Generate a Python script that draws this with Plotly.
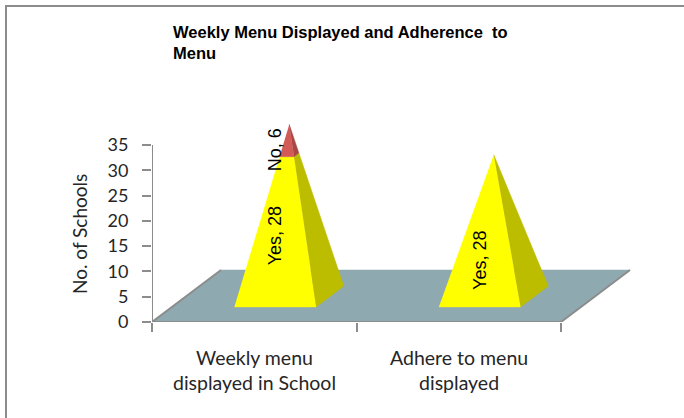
import plotly.graph_objects as go

categories = ["Weekly menu<br>displayed in School", "Adhere to menu<br>displayed"]
yes_values = [28, 28]
no_values = [6, 0]
y_ticks = [0, 5, 10, 15, 20, 25, 30, 35]
title_text = "<b>Weekly Menu Displayed and Adherence  to<br>Menu</b>"
y_title = "No. of Schools"

W, H = 684, 418
X0, X1 = 152, 660
Y0, YTOP = 322, 100
PX_CAT = 204.5
PX_UNIT = 5.06
# oblique projection of the floor and bars, in data units
DX = 69 / PX_CAT
DY = 52 / PX_UNIT
FRONT, BACK = 0.29, 0.69
BAR_W = 0.40
BAR_SHIFT = 1.0 / PX_CAT
APEX_SHIFT = 14 / PX_CAT
YES_LABEL_SHIFT = [0, -4.75]
AXIS_GREY = "#8C8C8C"
TEXT = "#262626"
LABEL_FONT = dict(family="Liberation Sans", size=18, color="black")

fig = go.Figure()

def poly(xs, ys, color):
    fig.add_trace(go.Scatter(x=xs, y=ys, mode="lines", fill="toself", fillcolor=color,
                             line=dict(color=color, width=0.5), hoverinfo="skip", showlegend=False))

def rule(xs, ys):
    fig.add_trace(go.Scatter(x=xs, y=ys, mode="lines", line=dict(color=AXIS_GREY, width=2),
                             hoverinfo="skip", showlegend=False, cliponaxis=False))

# floor
n = len(categories)
poly([0, n, n + DX, DX], [0, 0, DY, DY], "#8FA9B0")
rule([0, n, n + DX], [0, 0, DY])
rule([0, DX], [0, DY])
rule([0, 0], [y_ticks[0], y_ticks[-1]])

def lerp(a, b, t):
    return (a[0] + (b[0] - a[0]) * t, a[1] + (b[1] - a[1]) * t)

for i, (yes, no) in enumerate(zip(yes_values, no_values)):
    c = i + 0.5 + BAR_SHIFT
    total = yes + no
    yf = FRONT * DY
    yb = BACK * DY
    xl = c - BAR_W / 2 + FRONT * DX
    xr = c + BAR_W / 2 + FRONT * DX
    fl, fr = (xl, yf), (xr, yf)
    br = (xr + (BACK - FRONT) * DX, yb)
    apex = (c + FRONT * DX + APEX_SHIFT, (FRONT + BACK) / 2 * DY + total)
    t = yes / total
    cl, cr, cb = lerp(fl, apex, t), lerp(fr, apex, t), lerp(br, apex, t)
    poly([fl[0], fr[0], cr[0], cl[0]], [fl[1], fr[1], cr[1], cl[1]], "#FFFF00")
    poly([fr[0], br[0], cb[0], cr[0]], [fr[1], br[1], cb[1], cr[1]], "#BDBD00")
    if no:
        poly([cl[0], cr[0], apex[0]], [cl[1], cr[1], apex[1]], "#D25B58")
        poly([cr[0], cb[0], apex[0]], [cr[1], cb[1], apex[1]], "#A84744")
    fig.add_annotation(x=c + FRONT * DX, y=yf + yes / 2 + YES_LABEL_SHIFT[i], text=f"Yes, {yes}",
                       showarrow=False, textangle=-90, font=LABEL_FONT)
    if no:
        fig.add_annotation(x=c + FRONT * DX, y=yf + yes + no / 2, text=f"No, {no}",
                           showarrow=False, textangle=-90, font=LABEL_FONT)

fig.update_layout(
    width=W, height=H, autosize=False, paper_bgcolor="white", plot_bgcolor="rgba(0,0,0,0)",
    margin=dict(l=X0, r=W - X1, t=YTOP, b=H - Y0), showlegend=False,
    xaxis=dict(range=[0, (X1 - X0) / PX_CAT], tickvals=[0, 1, 2], ticktext=["", "", ""], ticks="outside",
               ticklen=9, tickcolor=AXIS_GREY, tickwidth=2, showgrid=False, zeroline=False, showline=False),
    yaxis=dict(range=[0, (Y0 - YTOP) / PX_UNIT], tickvals=y_ticks, ticks="outside", ticklen=9,
               tickcolor=AXIS_GREY, tickwidth=2, showgrid=False, zeroline=False, showline=False,
               ticklabelstandoff=10, tickfont=dict(family="Lato", size=18, color=TEXT)),
    shapes=[dict(type="rect", xref="paper", yref="paper", x0=(6 - X0) / (X1 - X0), x1=1.1,
                 y0=-0.6, y1=(Y0 - 6) / (Y0 - YTOP), line=dict(color=AXIS_GREY, width=2), layer="below")],
    annotations=list(fig.layout.annotations) + [
        dict(xref="paper", yref="paper", x=(171 - X0) / (X1 - X0), y=(Y0 - 42) / (Y0 - YTOP), text=title_text,
             showarrow=False, xanchor="left", yanchor="middle", align="left",
             font=dict(family="Liberation Sans", size=16.5, color="black")),
        dict(xref="paper", yref="paper", x=(79 - X0) / (X1 - X0), y=(Y0 - 234) / (Y0 - YTOP), text=y_title,
             showarrow=False, textangle=-90, xanchor="center", yanchor="middle",
             font=dict(family="Lato", size=19, color=TEXT)),
        dict(xref="x", yref="paper", x=0.5, y=(Y0 - 370) / (Y0 - YTOP), text=categories[0], showarrow=False,
             xanchor="center", yanchor="middle", font=dict(family="Lato", size=19.5, color=TEXT)),
        dict(xref="x", yref="paper", x=1.5, y=(Y0 - 370) / (Y0 - YTOP), text=categories[1], showarrow=False,
             xanchor="center", yanchor="middle", font=dict(family="Lato", size=19.5, color=TEXT)),
    ],
)
fig.write_html("out.html", config={"displayModeBar": False},
               post_script="document.body.style.margin='0';document.body.style.overflow='hidden';")
